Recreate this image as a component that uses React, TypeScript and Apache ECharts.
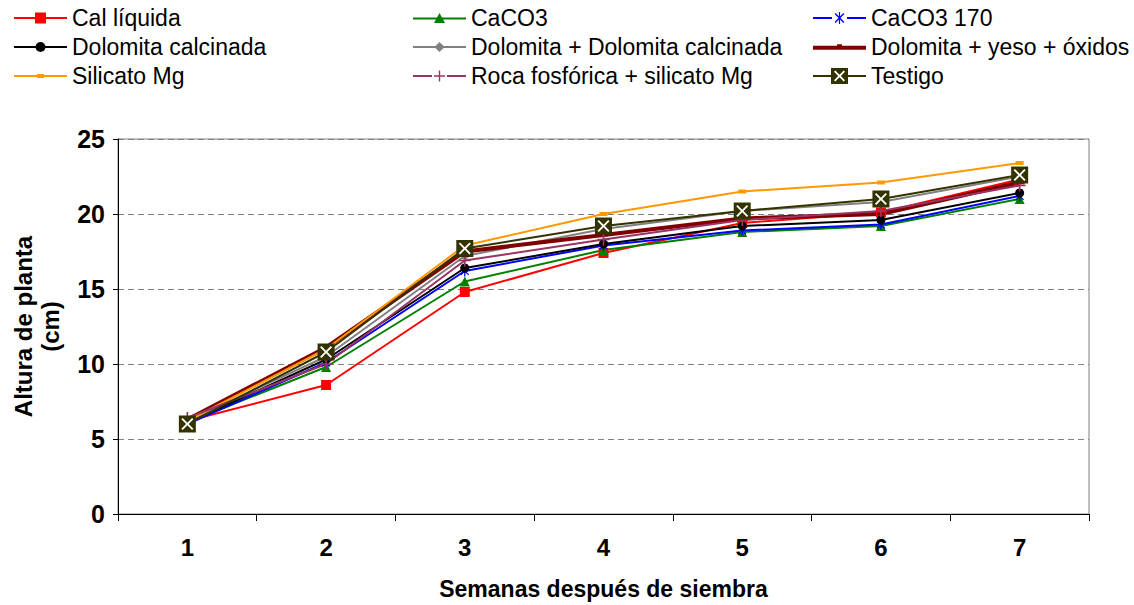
import React, { useEffect, useRef } from "react";
import * as echarts from "echarts";

const weeks = ["1", "2", "3", "4", "5", "6", "7"];
const yTicks = { min: 0, max: 25, interval: 5 };

const calLiquida = [6.2, 8.6, 14.8, 17.4, 19.4, 20.1, 22.3];
const caco3 = [6.1, 9.8, 15.5, 17.6, 18.8, 19.2, 21.0];
const caco3170 = [6.0, 10.1, 16.2, 17.9, 18.9, 19.3, 21.2];
const dolCalcinada = [6.1, 10.3, 16.4, 18.0, 19.2, 19.6, 21.4];
const dolDolCalc = [6.2, 10.5, 17.2, 19.0, 20.2, 20.8, 22.5];
const dolYeso = [6.3, 11.1, 17.5, 18.6, 19.7, 20.0, 22.1];
const silicatoMg = [6.2, 11.0, 17.9, 20.0, 21.5, 22.1, 23.4];
const rocaSilicato = [6.4, 10.0, 16.9, 18.3, 19.6, 20.2, 21.9];
const testigo = [6.0, 10.8, 17.7, 19.2, 20.2, 21.0, 22.6];

const names = [
  "Cal líquida",
  "CaCO3",
  "CaCO3 170",
  "Dolomita calcinada",
  "Dolomita + Dolomita calcinada",
  "Dolomita + yeso + óxidos",
  "Silicato Mg",
  "Roca fosfórica + silicato Mg",
  "Testigo",
];

const FONT = "'Liberation Sans', Arial, sans-serif";

// chart marker symbols
const ASTERISK =
  "path://M-0.6,-5 L0.6,-5 L0.6,5 L-0.6,5 Z M3.96,3.12 L3.12,3.96 L-3.96,-3.12 L-3.12,-3.96 Z M3.12,-3.96 L3.96,-3.12 L-3.12,3.96 L-3.96,3.12 Z";
const PLUS =
  "path://M-0.7,-5 L0.7,-5 L0.7,-0.7 L5,-0.7 L5,0.7 L0.7,0.7 L0.7,5 L-0.7,5 L-0.7,0.7 L-5,0.7 L-5,-0.7 L-0.7,-0.7 Z";
const XMARK =
  "path://M0,-1.1 L3.9,-5 L5,-3.9 L1.1,0 L5,3.9 L3.9,5 L0,1.1 L-3.9,5 L-5,3.9 L-1.1,0 L-5,-3.9 L-3.9,-5 Z";

// legend icons (53 x 16 box)
const LINE2 = "M0,7 L53,7 L53,9 L0,9 Z";
const LINE2_SPLIT = "M0,7 L19,7 L19,9 L0,9 Z M34,7 L53,7 L53,9 L34,9 Z";
const LINE4 = "M0,6 L53,6 L53,10 L0,10 Z";
const legendIcons: Record<string, string> = {
  "Cal líquida": "path://" + LINE2 + " M21,2.5 L32,2.5 L32,13.5 L21,13.5 Z",
  CaCO3: "path://" + LINE2 + " M26.5,2.5 L32,12.5 L21,12.5 Z",
  "CaCO3 170":
    "path://" +
    LINE2_SPLIT +
    " M25.9,2 L27.1,2 L27.1,14 L25.9,14 Z M31.4,11.9 L30.4,12.9 L21.6,4.1 L22.6,3.1 Z M30.4,3.1 L31.4,4.1 L22.6,12.9 L21.6,11.9 Z",
  "Dolomita calcinada": "path://" + LINE2 + " M21.5,8 A5,5 0 1 1 31.5,8 A5,5 0 1 1 21.5,8 Z",
  "Dolomita + Dolomita calcinada": "path://" + LINE2 + " M26.5,3 L31.5,8 L26.5,13 L21.5,8 Z",
  "Dolomita + yeso + óxidos": "path://" + LINE4 + " M24,4.5 L29,4.5 L29,6.5 L24,6.5 Z",
  "Silicato Mg": "path://" + LINE2 + " M23,6 L30,6 L30,10 L23,10 Z",
  "Roca fosfórica + silicato Mg":
    "path://" + LINE2_SPLIT + " M25.8,2.5 L27.2,2.5 L27.2,13.5 L25.8,13.5 Z M21,7.3 L32,7.3 L32,8.7 L21,8.7 Z",
  Testigo:
    "path://M0,7 L18,7 L18,9 L0,9 Z M35,7 L53,7 L53,9 L35,9 Z M18,0 L35,0 L35,16 L18,16 Z M26.5,6.7 L22.3,2.5 L21,3.8 L25.2,8 L21,12.2 L22.3,13.5 L26.5,9.3 L30.7,13.5 L32,12.2 L27.8,8 L32,3.8 L30.7,2.5 Z",
};

function line(
  name: string,
  data: number[],
  color: string,
  symbol: string,
  symbolSize: any,
  width: number,
  extra: any = {}
) {
  return {
    type: "line",
    name,
    data,
    symbol,
    symbolSize,
    showSymbol: true,
    symbolKeepAspect: true,
    lineStyle: { color, width },
    itemStyle: { color, borderWidth: 0 },
    emphasis: { disabled: true },
    ...extra,
  };
}

function legendCol(left: number, items: string[]) {
  return {
    orient: "vertical",
    left,
    top: 6,
    padding: 0,
    itemWidth: 53,
    itemHeight: 16,
    itemGap: 5,
    selectedMode: false,
    textStyle: { fontFamily: FONT, fontSize: 23, color: "#000", lineHeight: 24 },
    data: items.map((n) => ({ name: n, icon: legendIcons[n] })),
  };
}

export default function App() {
  const ref = useRef<HTMLDivElement>(null);
  useEffect(() => {
    document.body.style.margin = "0";
    const chart = echarts.init(ref.current!, null, { renderer: "svg" });
    chart.setOption({
      animation: false,
      backgroundColor: "#fff",
      legend: [
        legendCol(14, [names[0], names[3], names[6]]),
        legendCol(413, [names[1], names[4], names[7]]),
        legendCol(813, [names[2], names[5], names[8]]),
      ],
      grid: {
        left: 118,
        right: 45,
        top: 139,
        bottom: 89,
        show: true,
        borderColor: "#808080",
        borderWidth: 1,
      },
      xAxis: {
        type: "category",
        data: weeks,
        boundaryGap: true,
        name: "Semanas después de siembra",
        nameLocation: "middle",
        nameGap: 63,
        nameTextStyle: { fontFamily: FONT, fontSize: 23, fontWeight: "bold", color: "#000" },
        axisLine: { lineStyle: { color: "#000", width: 1 } },
        axisTick: { show: true, length: 7, lineStyle: { color: "#000" } },
        axisLabel: { fontFamily: FONT, fontSize: 24, fontWeight: "bold", color: "#000", margin: 21 },
        splitLine: { show: false },
      },
      yAxis: {
        type: "value",
        min: yTicks.min,
        max: yTicks.max,
        interval: yTicks.interval,
        name: "Altura de planta\n(cm)",
        nameLocation: "middle",
        nameGap: 54,
        nameTextStyle: {
          fontFamily: FONT,
          fontSize: 24,
          fontWeight: "bold",
          color: "#000",
          lineHeight: 27,
        },
        axisLine: { show: true, lineStyle: { color: "#000", width: 1 } },
        axisTick: { show: true, length: 5, lineStyle: { color: "#000" } },
        axisLabel: { fontFamily: FONT, fontSize: 25, fontWeight: "bold", color: "#000", margin: 13 },
        splitLine: { show: true, lineStyle: { color: "#808080", type: [6, 4], width: 1 } },
      },
      series: [
        line(names[0], calLiquida, "#FF0000", "rect", 10, 2),
        line(names[1], caco3, "#008000", "triangle", 10, 2),
        line(names[2], caco3170, "#0000FF", ASTERISK, 11, 2),
        line(names[3], dolCalcinada, "#000000", "circle", 9, 2),
        line(names[4], dolDolCalc, "#808080", "diamond", 10, 2),
        line(names[5], dolYeso, "#800000", "rect", [8, 3], 4),
        line(names[6], silicatoMg, "#FF9900", "rect", [8, 4], 2),
        line(names[7], rocaSilicato, "#993366", PLUS, 12, 2),
        line(names[8], testigo, "#333300", "rect", 17, 2),
        line("_testigoX", testigo, "#FFFFFF", XMARK, 12, 0, {
          lineStyle: { width: 0, opacity: 0 },
          z: 5,
        }),
      ],
    });
    return () => chart.dispose();
  }, []);
  return <div ref={ref} style={{ width: 1134, height: 605 }} />;
}
